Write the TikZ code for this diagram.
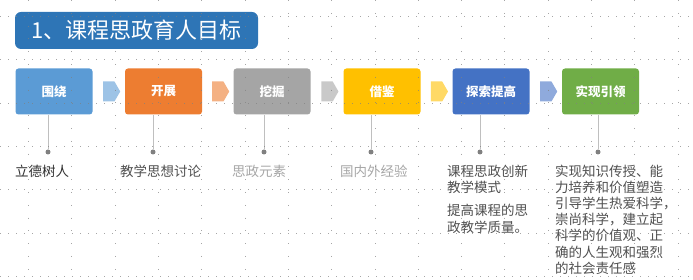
\documentclass[tikz,border=0pt]{standalone}
\usepackage{fontspec}
\setmainfont{Noto Sans CJK SC}
\usetikzlibrary{shapes.arrows, calc}
\definecolor{ttlblue}{HTML}{2E75B6}
\definecolor{stblue}{HTML}{5B9BD5}
\definecolor{storange}{HTML}{ED7D31}
\definecolor{stgray}{HTML}{A5A5A5}
\definecolor{stgold}{HTML}{FFC000}
\definecolor{stdkblue}{HTML}{4472C4}
\definecolor{stgreen}{HTML}{70AD47}
\definecolor{arblue}{HTML}{9DC3E6}
\definecolor{arorange}{HTML}{F4B183}
\definecolor{argray}{HTML}{C9C9C9}
\definecolor{argold}{HTML}{FFD966}
\definecolor{ardkblue}{HTML}{8FAADC}
\definecolor{stemgray}{HTML}{BFBFBF}
\definecolor{dotgray}{HTML}{808080}
\definecolor{txtdark}{HTML}{303030}
\definecolor{txtlight}{HTML}{A6A6A6}

\begin{document}
\begin{tikzpicture}[x=1pt, y=-1pt,
  stepbox/.style={rounded corners=3pt, minimum width=77pt, minimum height=46pt,
    inner sep=0pt, text=white, font=\fontsize{12.5}{15}\selectfont\bfseries},
  flowarrow/.style={single arrow, single arrow tip angle=120, single arrow head extend=0pt,
    minimum width=20pt, minimum height=17pt, inner sep=5.5pt},
  stemdot/.style={circle, fill=dotgray, inner sep=0pt, minimum size=5pt},
  goal/.style={anchor=north west, inner sep=0pt, align=left,
    font=\fontsize{13.5}{16.2}\selectfont},
  gridh/.style={dotgray, line width=0.8pt, dash pattern=on 0.8pt off 7.2pt, opacity=0.7},
  gridv/.style={dotgray, line width=0.8pt, dash pattern=on 0.8pt off 12pt, opacity=0.7}]

\useasboundingbox (0,0) rectangle (693,280);

% Title
\node[fill=ttlblue, rounded corners=6pt, minimum width=243pt, minimum height=37pt, inner sep=0pt,
  text=white, font=\fontsize{22}{26}\selectfont] (title) at (136.5,30.5) {1、课程思政育人目标};

% Step boxes
\foreach \x/\n/\col/\txt in {54/1/stblue/围绕, 163.5/2/storange/开展, 272/3/stgray/挖掘,
  382/4/stgold/借鉴, 491/5/stdkblue/探索提高, 600.5/6/stgreen/实现引领} {
  \node[stepbox, fill=\col] (b\n) at (\x,91.5) {\txt};
}

% Arrows between boxes
\foreach \a/\b/\col in {1/2/arblue, 2/3/arorange, 3/4/argray, 4/5/argold, 5/6/ardkblue} {
  \node[flowarrow, fill=\col] (a\a) at ($(b\a.east)!0.5!(b\b.west)$) {};
}

% Stems and dots
\foreach \x/\n in {48/1, 153/2, 264/3, 371/4, 480/5, 598/6} {
  \node[stemdot] (d\n) at (\x,152) {};
  \draw[stemgray, line width=0.9pt] (d\n) -- (d\n |- b\n.south);
}

% Goals
\node[goal, text=txtdark] (g1) at (15,164.5) {立德树人};
\node[goal, text=txtdark!85] (g2) at (120,164.5) {教学思想讨论};
\node[goal, text=txtlight] (g3) at (232,164.5) {思政元素};
\node[goal, text=txtlight] (g4) at (340,164.5) {国内外经验};
\node[goal, text=txtdark!85] (g5) at (447,164.5) {课程思政创新\\教学模式\\[7.5pt]提高课程的思\\政教学质量。};
\node[goal, text=txtdark!85] (g6) at (555,164.5) {实现知识传授、能\\力培养和价值塑造\\引导学生热爱科学，\\崇尚科学，建立起\\科学的价值观、正\\确的人生观和强烈\\的社会责任感};

% Grid
\foreach \i in {0,...,15} {
  \draw[gridv] ({28.5+43.3*\i},0) -- ({28.5+43.3*\i},280);
}
\foreach \j in {0,...,6} {
  \draw[gridh] (0,{16.5+43.3*\j}) -- (693,{16.5+43.3*\j});
}

\end{tikzpicture}
\end{document}
